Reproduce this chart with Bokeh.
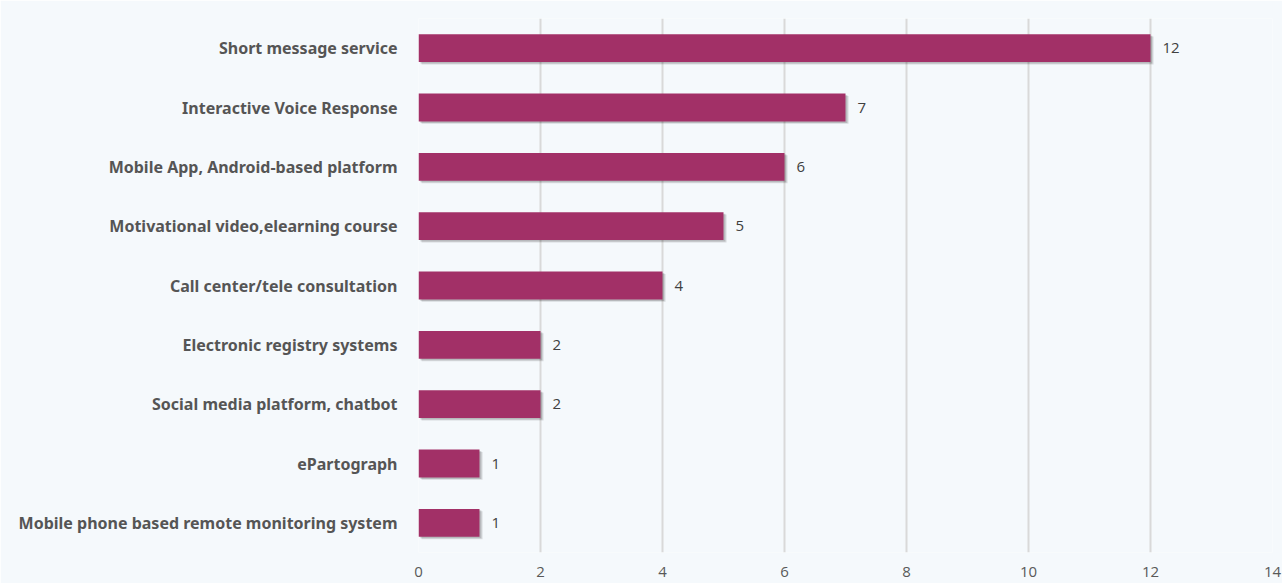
from bokeh.plotting import figure
from bokeh.models import ColumnDataSource, FixedTicker, Range1d
from bokeh.transform import dodge
from bokeh.core.properties import value
from bokeh.embed import file_html
from bokeh.resources import INLINE

categories = ["Short message service", "Interactive Voice Response", "Mobile App, Android-based platform",
              "Motivational video,elearning course", "Call center/tele consultation",
              "Electronic registry systems", "Social media platform, chatbot", "ePartograph",
              "Mobile phone based remote monitoring system"]
values = [12, 7, 6, 5, 4, 2, 2, 1, 1]
x_ticks = [0, 2, 4, 6, 8, 10, 12, 14]

bg = "#F5F9FC"
cats_rev = categories[::-1]
src = ColumnDataSource(dict(cat=categories, val=values, lab=[str(v) for v in values]))

p = figure(width=1282, height=583, y_range=cats_rev, x_range=Range1d(0, 14),
           output_backend="svg", toolbar_location=None,
           min_border_left=418, min_border_right=10, min_border_top=18, min_border_bottom=31)
p.background_fill_color = bg
p.border_fill_color = bg
p.outline_line_color = None

# soft drop shadow
p.hbar(y=dodge("cat", -0.04, range=p.y_range), right=dodge("val", 0.05), left=0.05, height=0.47,
       source=src, fill_color="#000000", fill_alpha=0.12, line_color=None)
p.hbar(y=dodge("cat", -0.025, range=p.y_range), right=dodge("val", 0.03), left=0.03, height=0.47,
       source=src, fill_color="#000000", fill_alpha=0.15, line_color=None)
p.hbar(y="cat", right="val", left=0, height=0.47, source=src,
       fill_color="#A23067", line_color=None)

p.text(x="val", y="cat", text="lab", source=src, x_offset=12, text_baseline="middle",
       text_font_size="15px", text_color="#404040", text_font=value("Open Sans"))

p.xaxis.ticker = FixedTicker(ticks=x_ticks)
p.xaxis.axis_line_color = None
p.xaxis.major_tick_line_color = None
p.xaxis.minor_tick_line_color = None
p.xaxis.major_label_text_font_size = "15px"
p.xaxis.major_label_text_color = "#595959"
p.xaxis.major_label_text_font = "Open Sans"
p.xaxis.major_label_standoff = 8

p.yaxis.axis_line_color = None
p.yaxis.major_tick_line_color = None
p.yaxis.minor_tick_line_color = None
p.yaxis.major_label_text_font_size = "16px"
p.yaxis.major_label_text_font_style = "bold"
p.yaxis.major_label_text_color = "#555555"
p.yaxis.major_label_text_font = "Noto Sans"
p.yaxis.major_label_standoff = 15

p.xgrid.grid_line_color = "#D9D9D9"
p.xgrid.grid_line_width = 2
p.ygrid.grid_line_color = None

open("out.html", "w").write(file_html(p, INLINE))
